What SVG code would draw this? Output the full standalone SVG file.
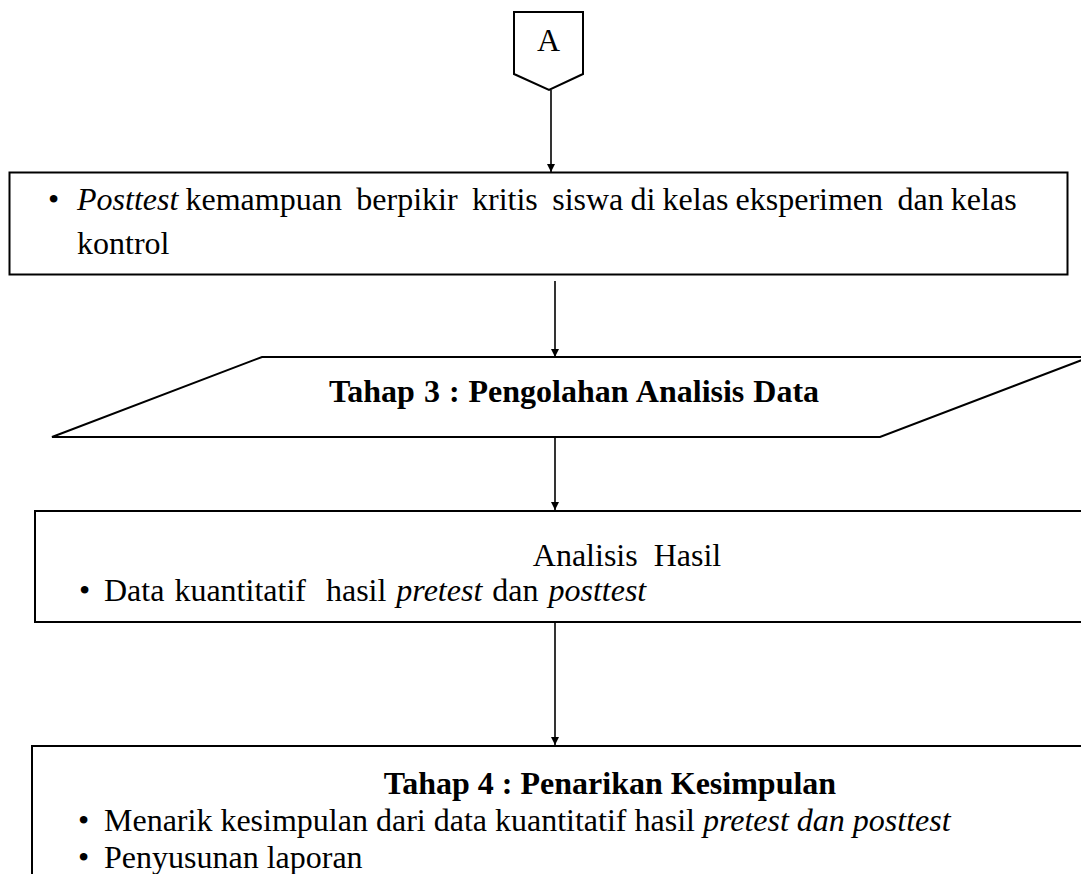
<svg xmlns="http://www.w3.org/2000/svg" width="1081" height="874" viewBox="0 0 1081 874">
<style>
.shape{fill:#fff;stroke:#000;stroke-width:2}
.t{font-family:"Liberation Serif","Times New Roman",serif;font-size:32px;fill:#000;white-space:pre}
.b{font-weight:bold}
.i{font-style:italic}
.conn{stroke:#000;stroke-width:1.6;fill:none}
</style>
<defs>
<marker id="arr" viewBox="0 0 10 10" refX="10" refY="5" markerWidth="8" markerHeight="8" markerUnits="userSpaceOnUse" orient="auto">
<path d="M0,0 L10,5 L0,10 Z" fill="#000"/>
</marker>
</defs>
<rect width="1081" height="874" fill="#fff"/>
<g id="connectors">
<line class="conn" x1="551" y1="90" x2="551" y2="172" marker-end="url(#arr)"/>
<line class="conn" x1="555" y1="281" x2="555" y2="357" marker-end="url(#arr)"/>
<line class="conn" x1="555" y1="437" x2="555" y2="510" marker-end="url(#arr)"/>
<line class="conn" x1="555" y1="622" x2="555" y2="745" marker-end="url(#arr)"/>
</g>
<g id="connectorA">
<polygon class="shape" points="514,12 583,12 583,74 549,90 514,74"/>
<text class="t" x="548.5" y="51" text-anchor="middle">A</text>
</g>
<g id="posttest">
<rect class="shape" x="9.5" y="172.5" width="1058" height="102"/>
<text class="t" x="48" y="210">•</text>
<text class="t" x="77" y="210" word-spacing="-0.8"><tspan class="i">Posttest</tspan> kemampuan  berpikir  kritis  siswa di kelas eksperimen  dan kelas</text>
<text class="t" x="77" y="254">kontrol</text>
</g>
<g id="tahap3">
<polygon class="shape" points="262,357 1090,357 880,437 52,437"/>
<text class="t b" x="574" y="402" text-anchor="middle" word-spacing="1">Tahap 3 : Pengolahan Analisis Data</text>
</g>
<g id="analisis">
<rect class="shape" x="35" y="511" width="1060" height="111"/>
<text class="t" x="627" y="566" text-anchor="middle">Analisis  Hasil</text>
<text class="t" x="79" y="601">•</text>
<text class="t" x="104" y="601" word-spacing="2">Data kuantitatif  hasil <tspan class="i">pretest</tspan> dan <tspan class="i">posttest</tspan></text>
</g>
<g id="tahap4">
<rect class="shape" x="32" y="746" width="1060" height="140"/>
<text class="t b" x="610" y="794" text-anchor="middle">Tahap 4 : Penarikan Kesimpulan</text>
<text class="t" x="78" y="831">•</text>
<text class="t" x="104" y="831">Menarik kesimpulan dari data kuantitatif hasil <tspan class="i">pretest dan posttest</tspan></text>
<text class="t" x="78" y="868">•</text>
<text class="t" x="104" y="868">Penyusunan laporan</text>
</g>
</svg>
